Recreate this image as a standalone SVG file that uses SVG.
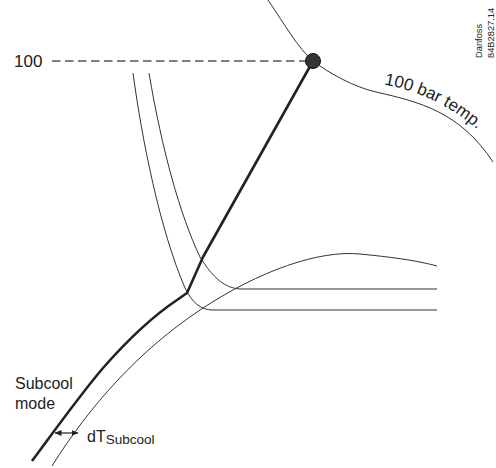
<svg xmlns="http://www.w3.org/2000/svg" width="496" height="468" viewBox="0 0 496 468">
<style>
.thin{fill:none;stroke:#333;stroke-width:1}
.thick{fill:none;stroke:#222;stroke-width:2.6;stroke-linejoin:round;stroke-linecap:butt}
.dash{fill:none;stroke:#555;stroke-width:1.4;stroke-dasharray:8.5,4.5}
.lbl{font-family:"Liberation Sans",Arial,sans-serif;fill:#222}
</style>
<defs>
<marker id="ah" markerWidth="7" markerHeight="6" refX="6.5" refY="3" orient="auto-start-reverse" markerUnits="userSpaceOnUse">
<path d="M0,0 L7,3 L0,6 Z" fill="#222"/>
</marker>
</defs>
<rect width="496" height="468" fill="#fff"/>
<g id="connectors">
<path id="temp100" class="thin" d="M268,0 C285,25 298,48 313,61 C330,74 355,87.2 376,92 C420,102 460,112 493,162"/>
<path id="dome" class="thin" d="M52,466 C90,405 140,350 200,310 C260,270 320,250 360,254 C390,257 415,260 437,266"/>
<path id="isoA" class="thin" d="M133,73 C142,140 160,230 185,288 C192,302 200,310 213,310 L437,310"/>
<path id="isoB" class="thin" d="M149,73 C162,150 180,215 200,257 C210,273 222,288 240,289 L437,289"/>
<path id="dashline" class="dash" d="M52,61 L306,61"/>
<path id="mainline" class="thick" d="M313,61 L203,257 L187,293 L177,300 C150,318 125,343 103,368 C80,395 55,430 32,461"/>
<path id="dtarrow" fill="none" stroke="#222" stroke-width="1.2" d="M55,433 L78,433" marker-start="url(#ah)" marker-end="url(#ah)"/>
</g>
<g id="point">
<circle cx="313" cy="61" r="7.5" fill="#333" stroke="#111" stroke-width="1"/>
</g>
<g id="label-100">
<text class="lbl" x="14" y="67" font-size="17">100</text>
</g>
<g id="label-temp">
<text class="lbl" font-size="17" x="384 393.26 402.42 411.45 415.92 424.72 433.35 438.41 442.58 446.71 454.75 466.35 473.71" y="84.5 86.37 88.7 91.47 93.03 96.47 100.34 102.86 105.08 107.41 112.34 120.49 126.38" rotate="11.4 14.3 17.1 19.2 21.3 24.2 26.4 28 29.4 31.5 35.1 38.6 40.8">100 bar temp.</text>
</g>
<g id="label-subcool">
<text class="lbl" x="15" y="389" font-size="16">Subcool</text>
<text class="lbl" x="15" y="409" font-size="16">mode</text>
</g>
<g id="label-dt">
<text class="lbl" x="87" y="442" font-size="16">dT<tspan font-size="13.5" dy="2">Subcool</tspan></text>
</g>
<g id="stamp">
<text class="lbl" transform="translate(482,58) rotate(-90)" font-size="9.3">Danfoss</text>
<text class="lbl" transform="translate(494,58) rotate(-90)" font-size="9.3">84B2827.14</text>
</g>
</svg>
